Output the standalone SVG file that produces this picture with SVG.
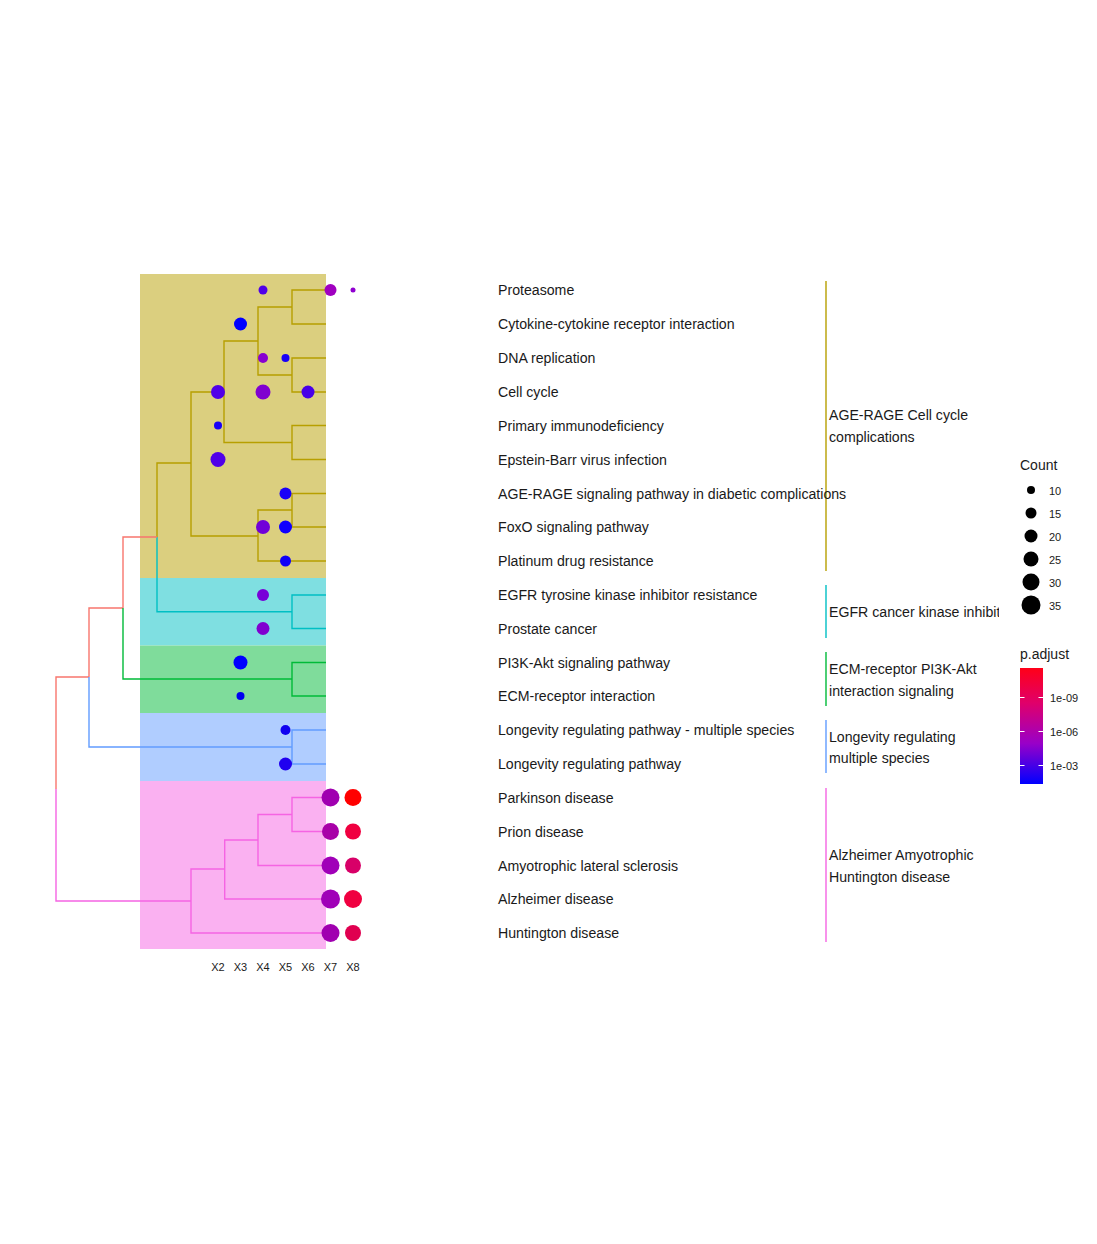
<svg xmlns="http://www.w3.org/2000/svg" width="1097" height="1244" viewBox="0 0 1097 1244">
<style>
text{font-family:"Liberation Sans",Arial,sans-serif;fill:#1a1a1a}
.lab{font-size:14.15px}
.ax{font-size:11px}
.leg{font-size:11px;fill:#1a1a1a}
.t{fill:none;stroke-width:1.4}
.g{stroke:#B79F00}.c{stroke:#00BFC4}.gr{stroke:#00BA38}.b{stroke:#619CFF}.p{stroke:#F564E3}.r{stroke:#F8766D}
</style>
<defs>
<linearGradient id="pg" x1="0" y1="1" x2="0" y2="0">
<stop offset="0" stop-color="#0000FF"/><stop offset="0.35" stop-color="#9900C8"/><stop offset="0.7" stop-color="#E0006A"/><stop offset="1" stop-color="#FF0018"/>
</linearGradient>
</defs>
<rect width="1097" height="1244" fill="#fff"/>
<g id="bands">
<rect x="140" y="274" width="186" height="304" fill="#DBCF7F"/>
<rect x="140" y="578" width="186" height="67.5" fill="#7FDFE1"/>
<rect x="140" y="645.5" width="186" height="67.5" fill="#7FDC9B"/>
<rect x="140" y="713" width="186" height="68" fill="#B0CDFF"/>
<rect x="140" y="781" width="186" height="168" fill="#FAB1F1"/>
</g>
<g id="connectors">
<path class="t g" d="M326 290H292V324H326M326 358H292V392H326M292 307H258V375H292M326 425.5H292V459.5H326M258 341H224V442.5H292M326 493.5H292V527H326M292 510H258V561H326M224 392H191V536H258M191 463H157V537"/>
<path class="t c" d="M157 537V611.7H292M326 595H292V628.5H326"/>
<path class="t r" d="M157 537H123V608M123 608H89V677M89 677H56V789"/>
<path class="t gr" d="M123 608V679H292M326 662.5H292V696H326"/>
<path class="t b" d="M89 677V747H292M326 730H292V764H326"/>
<path class="t p" d="M56 789V901H191M326 797.5H292V831.5H326M292 814.5H258V865.5H326M258 840H224.7V899H326M224.7 869H191V933H326"/>
<path class="t g" d="M826 281V571"/>
<path class="t c" d="M826 585V638"/>
<path class="t gr" d="M826 652V706"/>
<path class="t b" d="M826 720V773"/>
<path class="t p" d="M826 788V942"/>
</g>
<g id="dots">
<circle cx="263" cy="290" r="4.5" fill="#5000E8"/><circle cx="330.5" cy="290" r="6" fill="#A000C0"/><circle cx="353" cy="290" r="2.5" fill="#9000D0"/>
<circle cx="240.5" cy="324" r="6.5" fill="#0000FF"/>
<circle cx="263" cy="358" r="5" fill="#8800D0"/><circle cx="285.5" cy="358" r="4" fill="#1800F8"/>
<circle cx="218" cy="392" r="7" fill="#5000E8"/><circle cx="263" cy="392" r="7.5" fill="#8000D0"/><circle cx="308" cy="392" r="6.5" fill="#4800E8"/>
<circle cx="218" cy="425.5" r="4" fill="#1800F8"/>
<circle cx="218" cy="459.5" r="7.5" fill="#5000E8"/>
<circle cx="285.5" cy="493.5" r="6" fill="#1800F8"/>
<circle cx="263" cy="527" r="7" fill="#7000D8"/><circle cx="285.5" cy="527" r="6.5" fill="#1000FF"/>
<circle cx="285.5" cy="561" r="5.5" fill="#1000F8"/>
<circle cx="263" cy="595" r="6" fill="#7800D8"/>
<circle cx="263" cy="628.5" r="6.5" fill="#8000D0"/>
<circle cx="240.5" cy="662.5" r="7" fill="#0000FF"/>
<circle cx="240.5" cy="696" r="4" fill="#0000F0"/>
<circle cx="285.5" cy="730" r="5" fill="#1000F0"/>
<circle cx="285.5" cy="764" r="6.5" fill="#2000F0"/>
<circle cx="330.5" cy="797.5" r="9" fill="#A000B0"/><circle cx="353" cy="797.5" r="8.5" fill="#FF0000"/>
<circle cx="330.5" cy="831.5" r="8.5" fill="#A800A8"/><circle cx="353" cy="831.5" r="8" fill="#F00040"/>
<circle cx="330.5" cy="865.5" r="9" fill="#A000B8"/><circle cx="353" cy="865.5" r="8" fill="#D80068"/>
<circle cx="330.5" cy="899" r="9.5" fill="#A000B8"/><circle cx="353" cy="899" r="9" fill="#F00040"/>
<circle cx="330.5" cy="933" r="9" fill="#A000B0"/><circle cx="353" cy="933" r="8" fill="#E00050"/>
</g>
<g id="axis">
<text class="ax" x="218" y="971" text-anchor="middle">X2</text><text class="ax" x="240.5" y="971" text-anchor="middle">X3</text><text class="ax" x="263" y="971" text-anchor="middle">X4</text><text class="ax" x="285.5" y="971" text-anchor="middle">X5</text><text class="ax" x="308" y="971" text-anchor="middle">X6</text><text class="ax" x="330.5" y="971" text-anchor="middle">X7</text><text class="ax" x="353" y="971" text-anchor="middle">X8</text>
</g>
<g id="labels">
<text class="lab" x="498" y="295">Proteasome</text>
<text class="lab" x="498" y="329">Cytokine-cytokine receptor interaction</text>
<text class="lab" x="498" y="363">DNA replication</text>
<text class="lab" x="498" y="397">Cell cycle</text>
<text class="lab" x="498" y="430.5">Primary immunodeficiency</text>
<text class="lab" x="498" y="464.5">Epstein-Barr virus infection</text>
<text class="lab" x="498" y="498.5">AGE-RAGE signaling pathway in diabetic complications</text>
<text class="lab" x="498" y="532">FoxO signaling pathway</text>
<text class="lab" x="498" y="566">Platinum drug resistance</text>
<text class="lab" x="498" y="600">EGFR tyrosine kinase inhibitor resistance</text>
<text class="lab" x="498" y="633.5">Prostate cancer</text>
<text class="lab" x="498" y="667.5">PI3K-Akt signaling pathway</text>
<text class="lab" x="498" y="701">ECM-receptor interaction</text>
<text class="lab" x="498" y="735">Longevity regulating pathway - multiple species</text>
<text class="lab" x="498" y="769">Longevity regulating pathway</text>
<text class="lab" x="498" y="802.5">Parkinson disease</text>
<text class="lab" x="498" y="836.5">Prion disease</text>
<text class="lab" x="498" y="870.5">Amyotrophic lateral sclerosis</text>
<text class="lab" x="498" y="904">Alzheimer disease</text>
<text class="lab" x="498" y="938">Huntington disease</text>
</g>
<g id="clusters">
<text class="lab" x="829" y="420">AGE-RAGE Cell cycle</text><text class="lab" x="829" y="442">complications</text>
<svg x="829" y="595" width="170" height="30"><text class="lab" x="0" y="22">EGFR cancer kinase inhibitor</text></svg>
<text class="lab" x="829" y="674">ECM-receptor PI3K-Akt</text><text class="lab" x="829" y="696">interaction signaling</text>
<text class="lab" x="829" y="742">Longevity regulating</text><text class="lab" x="829" y="763">multiple species</text>
<text class="lab" x="829" y="860">Alzheimer Amyotrophic</text><text class="lab" x="829" y="882">Huntington disease</text>
</g>
<g id="legend">
<text x="1020" y="470" style="font-size:14px">Count</text>
<circle cx="1031" cy="490" r="4" fill="#000"/><text class="leg" x="1049" y="494.5">10</text>
<circle cx="1031" cy="513" r="5.5" fill="#000"/><text class="leg" x="1049" y="517.5">15</text>
<circle cx="1031" cy="536" r="6.5" fill="#000"/><text class="leg" x="1049" y="540.5">20</text>
<circle cx="1031" cy="559" r="7.5" fill="#000"/><text class="leg" x="1049" y="563.5">25</text>
<circle cx="1031" cy="582" r="8.5" fill="#000"/><text class="leg" x="1049" y="586.5">30</text>
<circle cx="1031" cy="605" r="9.5" fill="#000"/><text class="leg" x="1049" y="609.5">35</text>
<text x="1020" y="659" style="font-size:14px">p.adjust</text>
<rect x="1020" y="668" width="23" height="116" fill="url(#pg)"/>
<path d="M1020 697.5h4.5M1038.5 697.5h4.5M1020 731.5h4.5M1038.5 731.5h4.5M1020 765.5h4.5M1038.5 765.5h4.5" stroke="#fff" stroke-width="1"/>
<text class="leg" x="1050" y="701.5">1e-09</text>
<text class="leg" x="1050" y="735.5">1e-06</text>
<text class="leg" x="1050" y="769.5">1e-03</text>
</g>
</svg>
